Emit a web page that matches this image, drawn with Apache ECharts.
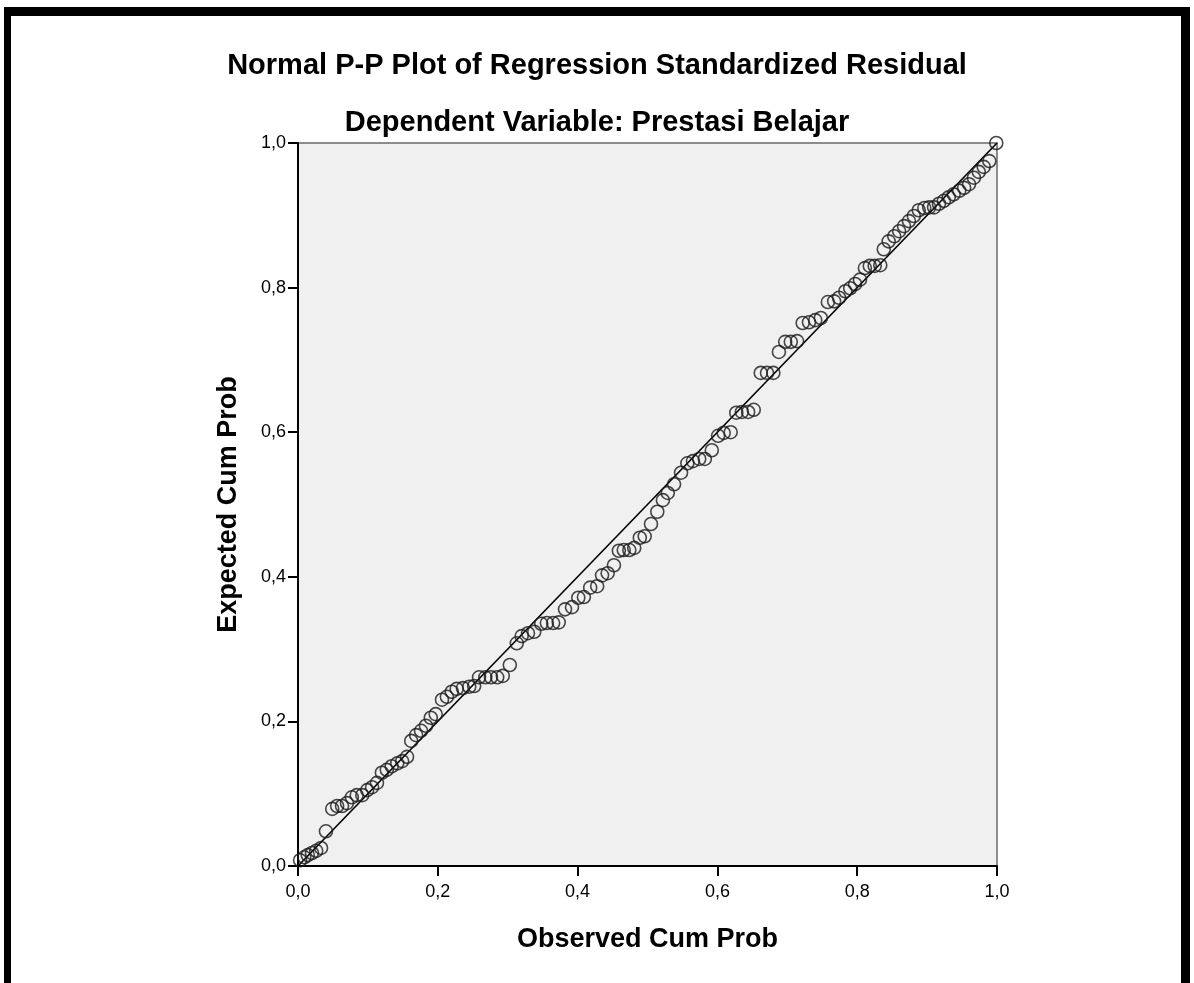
<!DOCTYPE html>
<html>
<head>
<meta charset="utf-8">
<script src="https://cdn.jsdelivr.net/npm/echarts@6/dist/echarts.min.js"></script>
<style>
html,body{margin:0;padding:0;background:#fff;}
#c{width:1194px;height:983px;}
</style>
</head>
<body>
<div id="c"></div>
<script>
const titleText = 'Normal P-P Plot of Regression Standardized Residual';
const subtitleText = 'Dependent Variable: Prestasi Belajar';
const xName = 'Observed Cum Prob';
const yName = 'Expected Cum Prob';
const tickLabels = ['0,0', '0,2', '0,4', '0,6', '0,8', '1,0'];
const tickValues = [0, 0.2, 0.4, 0.6, 0.8, 1.0];

const observed = [
  0.003,0.009,0.014,0.020,0.026,0.033,0.040,0.049,0.056,0.063,
  0.070,0.077,0.084,0.092,0.099,0.106,0.113,0.120,0.127,0.134,
  0.142,0.149,0.156,0.162,0.169,0.176,0.183,0.190,0.197,0.206,
  0.213,0.220,0.227,0.236,0.245,0.252,0.259,0.268,0.276,0.285,
  0.293,0.303,0.313,0.320,0.329,0.338,0.348,0.356,0.365,0.373,
  0.382,0.392,0.401,0.409,0.418,0.428,0.435,0.443,0.452,0.459,
  0.466,0.474,0.481,0.489,0.496,0.505,0.514,0.522,0.529,0.538,
  0.548,0.557,0.565,0.574,0.582,0.592,0.601,0.609,0.619,0.627,
  0.635,0.644,0.652,0.662,0.671,0.680,0.688,0.697,0.705,0.714,
  0.722,0.731,0.740,0.748,0.758,0.767,0.774,0.783,0.790,0.797,
  0.804,0.811,0.818,0.825,0.833,0.838,0.845,0.853,0.860,0.867,
  0.874,0.881,0.888,0.896,0.903,0.910,0.917,0.924,0.931,0.938,
  0.946,0.953,0.960,0.967,0.974,0.981,0.989,0.999
];
const expected = [
  0.008,0.012,0.015,0.018,0.021,0.025,0.048,0.079,0.083,0.083,
  0.087,0.095,0.098,0.098,0.105,0.109,0.115,0.129,0.133,0.138,
  0.142,0.145,0.151,0.173,0.181,0.187,0.194,0.205,0.210,0.230,
  0.234,0.241,0.245,0.246,0.248,0.249,0.261,0.261,0.261,0.261,
  0.263,0.278,0.308,0.318,0.322,0.324,0.335,0.336,0.336,0.337,
  0.355,0.358,0.371,0.372,0.385,0.387,0.402,0.405,0.416,0.436,
  0.437,0.437,0.440,0.454,0.456,0.473,0.490,0.506,0.516,0.528,
  0.544,0.557,0.560,0.563,0.563,0.575,0.595,0.599,0.600,0.627,
  0.628,0.628,0.631,0.682,0.682,0.682,0.711,0.725,0.725,0.726,
  0.751,0.752,0.755,0.758,0.780,0.781,0.786,0.795,0.799,0.805,
  0.811,0.827,0.830,0.830,0.831,0.853,0.864,0.871,0.878,0.885,
  0.892,0.899,0.907,0.910,0.911,0.911,0.916,0.920,0.925,0.929,
  0.934,0.938,0.943,0.952,0.960,0.967,0.975,1.000
];
const refLine = [[0, 0], [1, 1]];

const points = observed.map((x, i) => [x, expected[i]]);
const FONT = "'Liberation Sans', Arial, sans-serif";
const fmt = v => {
  const i = tickValues.findIndex(t => Math.abs(t - v) < 1e-9);
  return i >= 0 ? tickLabels[i] : '';
};

const chart = echarts.init(document.getElementById('c'), null, {renderer: 'canvas'});
chart.setOption({
  backgroundColor: '#ffffff',
  animation: false,
  title: [
    {text: titleText, left: 'center', top: 46,
     textStyle: {fontFamily: FONT, fontSize: 29, fontWeight: 'bold', color: '#000'}},
    {text: subtitleText, left: 'center', top: 103,
     textStyle: {fontFamily: FONT, fontSize: 29, fontWeight: 'bold', color: '#000'}}
  ],
  graphic: [
    {type: 'rect', shape: {x: 4, y: 7, width: 1186, height: 9}, style: {fill: '#000'}, z: 100},
    {type: 'rect', shape: {x: 4, y: 7, width: 7, height: 990}, style: {fill: '#000'}, z: 100},
    {type: 'rect', shape: {x: 1181, y: 7, width: 9, height: 990}, style: {fill: '#000'}, z: 100}
  ],
  grid: {
    left: 298, right: 197, top: 143, bottom: 117,
    show: true, backgroundColor: '#f0f0f0', borderColor: '#8c8c8c', borderWidth: 2
  },
  xAxis: {
    type: 'value', min: 0, max: 1, interval: 0.2,
    name: xName, nameLocation: 'middle', nameGap: 60,
    nameTextStyle: {fontFamily: FONT, fontSize: 27, fontWeight: 'bold', color: '#000'},
    axisLine: {show: true, lineStyle: {color: '#000', width: 2}},
    axisTick: {show: true, length: 10, lineStyle: {color: '#000', width: 2}},
    axisLabel: {formatter: fmt, margin: 17, fontFamily: FONT, fontSize: 18, color: '#000'},
    splitLine: {show: false}
  },
  yAxis: {
    type: 'value', min: 0, max: 1, interval: 0.2,
    name: yName, nameLocation: 'middle', nameGap: 56,
    nameTextStyle: {fontFamily: FONT, fontSize: 27, fontWeight: 'bold', color: '#000'},
    axisLine: {show: true, lineStyle: {color: '#000', width: 2}},
    axisTick: {show: true, length: 10, lineStyle: {color: '#000', width: 2}},
    axisLabel: {formatter: fmt, margin: 12, fontFamily: FONT, fontSize: 18, color: '#000'},
    splitLine: {show: false}
  },
  series: [
    {
      type: 'line', data: refLine, symbol: 'none', silent: true,
      lineStyle: {color: '#000', width: 1.6}, z: 2
    },
    {
      type: 'scatter', data: points, symbol: 'circle', symbolSize: 13,
      itemStyle: {color: 'rgba(0,0,0,0)', borderColor: '#1a1a1a', borderWidth: 1.6}, z: 3
    }
  ]
});
</script>
</body>
</html>
